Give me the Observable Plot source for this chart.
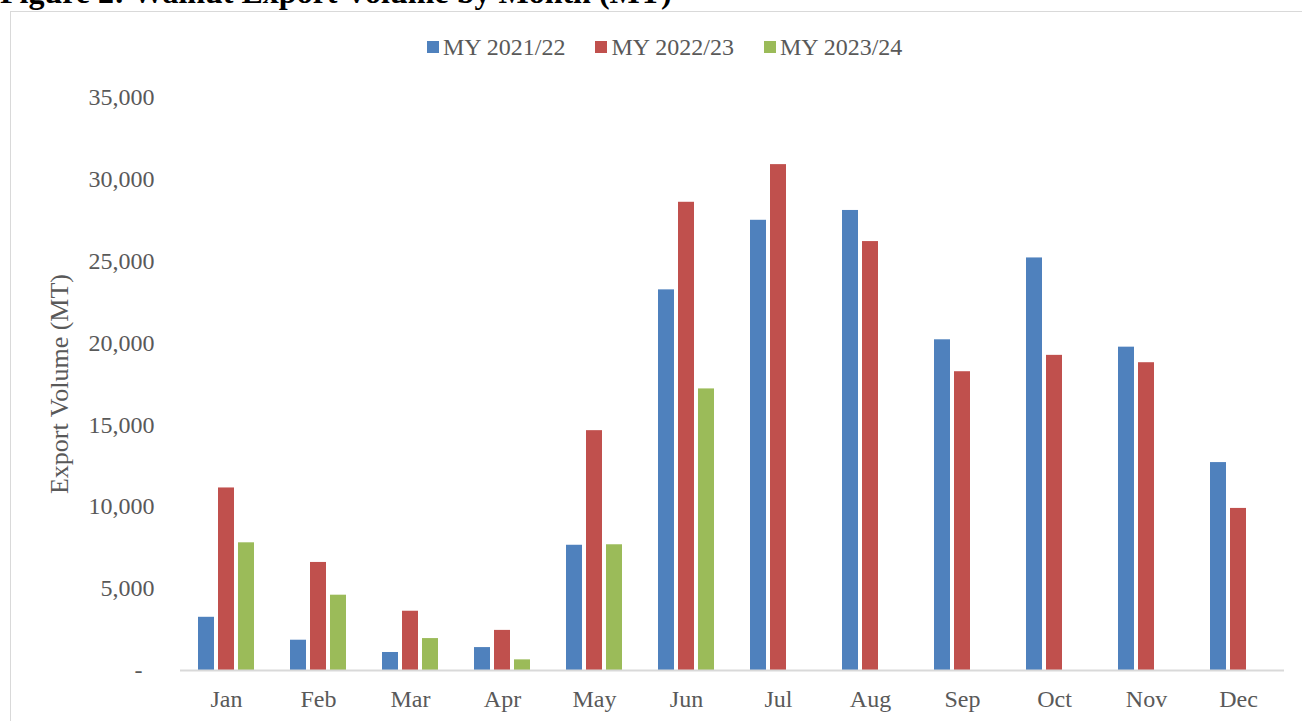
<!DOCTYPE html>
<html>
<head>
<meta charset="utf-8">
<script src="https://cdn.jsdelivr.net/npm/d3@7"></script>
<script src="https://cdn.jsdelivr.net/npm/@observablehq/plot@0.6"></script>
<style>
  html, body { margin: 0; padding: 0; background: #fff; }
  body { width: 1302px; height: 721px; overflow: hidden; position: relative; font-family: "Liberation Serif", "Times New Roman", serif; }
  #title { position: absolute; left: 0; top: -24px; font-size: 32px; line-height: 32px; font-weight: bold; color: #000; white-space: nowrap; }
  #box { position: absolute; left: 10px; top: 11px; width: 1400px; height: 800px; border: 1px solid #d9d9d9; box-sizing: border-box; }
  #legend { position: absolute; left: 427px; top: 35px; display: flex; align-items: center; font-size: 24px; line-height: 24px; color: #595959; white-space: nowrap; }
  #legend .item { display: flex; align-items: center; margin-right: 30px; }
  #legend .sw { width: 12px; height: 12px; margin-right: 4px; }
  #chart { position: absolute; left: 0; top: 70px; }
  g[aria-label="y-axis label"] text { font-size: 26px; }
</style>
</head>
<body>
<div id="title">Figure 2: Walnut Export Volume by Month (MT)</div>
<div id="box"></div>
<div id="legend"></div>
<div id="chart"></div>
<script>
const months = ["Jan", "Feb", "Mar", "Apr", "May", "Jun", "Jul", "Aug", "Sep", "Oct", "Nov", "Dec"];
const seriesNames = ["MY 2021/22", "MY 2022/23", "MY 2023/24"];
const seriesColors = ["#4F81BD", "#C0504D", "#9BBB59"];
const my2021_22 = [3250, 1850, 1100, 1400, 7650, 23250, 27500, 28100, 20200, 25200, 19750, 12700];
const my2022_23 = [11150, 6600, 3620, 2450, 14650, 28600, 30900, 26200, 18250, 19250, 18800, 9900];
const my2023_24 = [7800, 4600, 1950, 650, 7680, 17200, null, null, null, null, null, null];
const yTicks = [0, 5000, 10000, 15000, 20000, 25000, 30000, 35000];

const seriesValues = [my2021_22, my2022_23, my2023_24];
const rows = [];
seriesNames.forEach((s, i) => {
  months.forEach((m, j) => {
    const v = seriesValues[i][j];
    if (v != null) rows.push({month: m, series: s, value: v});
  });
});

// legend
const legend = document.getElementById("legend");
seriesNames.forEach((s, i) => {
  const it = document.createElement("div");
  it.className = "item";
  const sw = document.createElement("span");
  sw.className = "sw";
  sw.style.background = seriesColors[i];
  const t = document.createElement("span");
  t.textContent = s;
  it.appendChild(sw); it.appendChild(t);
  legend.appendChild(it);
});

const fmt = d3.format(",");
const chart = Plot.plot({
  width: 1302,
  height: 651,
  marginTop: 27,
  marginBottom: 51,
  marginLeft: 179,
  marginRight: 17,
  style: {fontFamily: '"Liberation Serif", "Times New Roman", serif', fontSize: "24px", color: "#595959", background: "transparent"},
  fx: {domain: months, padding: 0, label: null, axis: "bottom", tickSize: 0, tickPadding: 19},
  x: {domain: seriesNames, paddingInner: 0.2, paddingOuter: 0.84, axis: null},
  y: {domain: [0, 35000], ticks: yTicks, tickSize: 0, tickPadding: 26,
      tickFormat: d => d === 0 ? "-\u2007" : fmt(d),
      label: "Export Volume (MT)", labelAnchor: "center", labelArrow: "none", labelOffset: 131},
  color: {domain: seriesNames, range: seriesColors},
  marks: [
    Plot.barY(rows, {fx: "month", x: "series", y: "value", fill: "series"}),
    Plot.ruleY([0], {stroke: "#d9d9d9", strokeWidth: 2})
  ]
});
document.getElementById("chart").appendChild(chart);
</script>
</body>
</html>
